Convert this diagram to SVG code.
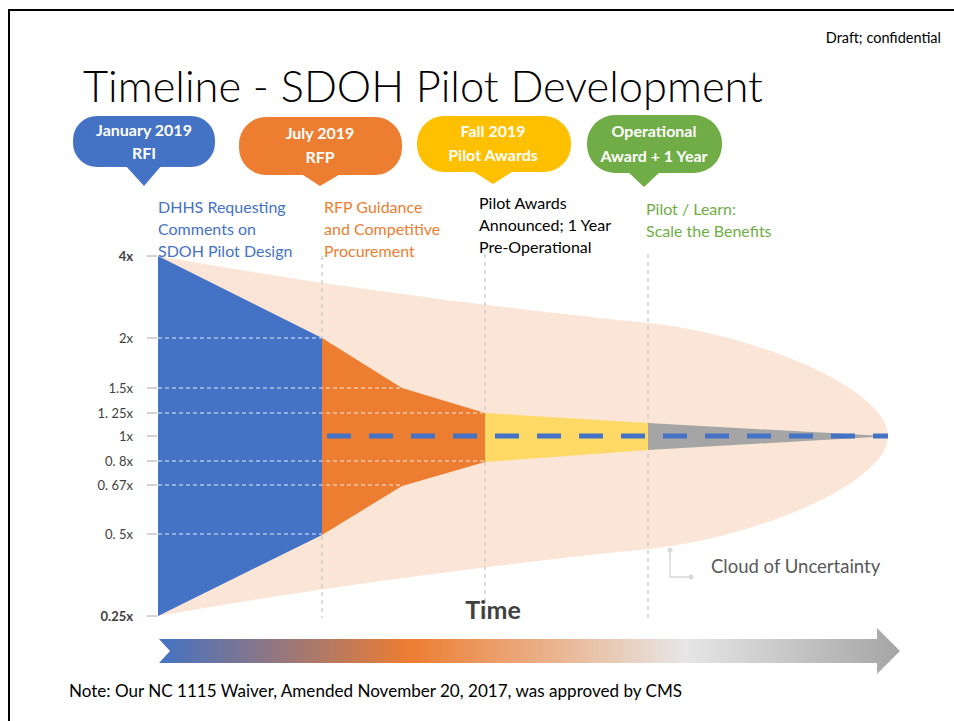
<svg xmlns="http://www.w3.org/2000/svg" width="954" height="721" viewBox="0 0 954 721">
  <defs>
    <linearGradient id="timeGrad" gradientUnits="userSpaceOnUse" x1="159" y1="0" x2="900" y2="0">
      <stop offset="0" stop-color="#4472C4"/>
      <stop offset="0.34" stop-color="#ED7D31"/>
      <stop offset="0.71" stop-color="#E7E6E6"/>
      <stop offset="1" stop-color="#A5A5A5"/>
    </linearGradient>
  </defs>
  <style>
    .lbl { font-family: Lato, "Liberation Sans", sans-serif; }
    .bub { font-family: Lato, "Liberation Sans", sans-serif; font-weight: 700; font-size: 16px; fill: #FFFFFF; text-anchor: middle; }
    .desc { font-family: Lato, "Liberation Sans", sans-serif; font-size: 16px; }
    .ax { font-family: Lato, "Liberation Sans", sans-serif; font-size: 13px; fill: #404040; text-anchor: end; }
    .tick { stroke: #A6A6A6; stroke-width: 1; }
    .hgrid { stroke: #FFFFFF; stroke-width: 1.2; stroke-dasharray: 4 3; opacity: 0.85; }
    .vgrid { stroke: #C8C8C8; stroke-width: 1.3; stroke-dasharray: 4 4; fill: none; }
  </style>

  <rect x="0" y="0" width="954" height="721" fill="#FFFFFF"/>
  <path d="M9,721 L9,10 L954,10" fill="none" stroke="#000000" stroke-width="2"/>

  <text class="lbl" x="941" y="43" font-size="14.5" text-anchor="end" fill="#000000">Draft; confidential</text>
  <text class="lbl" x="83" y="102" font-size="43" font-weight="300" fill="#000000" textLength="680" lengthAdjust="spacingAndGlyphs">Timeline - SDOH Pilot Development</text>

  <!-- Cloud of uncertainty -->
  <g id="cloud">
    <path d="M158,256 C320,285 490,307 648,323 C760,335 888,390 888,436 C888,482 760,537 648,549 C490,565 320,587 158,616 Z" fill="#FBE5D6"/>
  </g>

  <!-- vertical dashed phase lines -->
  <g id="phase-lines">
    <line class="vgrid" x1="322" y1="256" x2="322" y2="618"/>
    <line class="vgrid" x1="485" y1="254" x2="485" y2="618"/>
    <line class="vgrid" x1="648" y1="254" x2="648" y2="618"/>
  </g>

  <!-- cone segments -->
  <g id="cone-rfi">
    <polygon points="158,256 322,338 322,535 158,616" fill="#4472C4"/>
  </g>
  <g id="cone-rfp">
    <polygon points="322,338 402,388 485,413 485,462 402,486 322,535" fill="#ED7D31"/>
  </g>
  <g id="cone-awards">
    <polygon points="485,413 648,423 648,450 485,462" fill="#FFD966"/>
  </g>
  <g id="cone-operational">
    <polygon points="648,423 875,435.5 875,437 648,450" fill="#A5A5A5"/>
  </g>

  <!-- horizontal dashed gridlines -->
  <g id="gridlines">
    <line class="hgrid" x1="158" y1="338" x2="322" y2="338"/>
    <line class="hgrid" x1="158" y1="388" x2="401" y2="388"/>
    <line class="hgrid" x1="158" y1="413" x2="483" y2="413"/>
    <line class="hgrid" x1="158" y1="461" x2="484" y2="461"/>
    <line class="hgrid" x1="158" y1="485" x2="401" y2="485"/>
    <line class="hgrid" x1="158" y1="534" x2="322" y2="534"/>
  </g>

  <!-- expected value line -->
  <g id="baseline">
    <line x1="327" y1="436" x2="888" y2="436" stroke="#4472C4" stroke-width="5" stroke-dasharray="24 18"/>
  </g>

  <!-- y axis -->
  <g id="axis">
    <line class="tick" x1="147" y1="256" x2="157" y2="256"/>
    <line class="tick" x1="147" y1="338" x2="157" y2="338"/>
    <line class="tick" x1="147" y1="388" x2="157" y2="388"/>
    <line class="tick" x1="147" y1="413" x2="157" y2="413"/>
    <line class="tick" x1="147" y1="436" x2="157" y2="436"/>
    <line class="tick" x1="147" y1="461" x2="157" y2="461"/>
    <line class="tick" x1="147" y1="485" x2="157" y2="485"/>
    <line class="tick" x1="147" y1="534" x2="157" y2="534"/>
    <line class="tick" x1="147" y1="616" x2="157" y2="616"/>
    <text class="ax" x="133" y="261" font-weight="700">4x</text>
    <text class="ax" x="133" y="343">2x</text>
    <text class="ax" x="133" y="393">1.5x</text>
    <text class="ax" x="133" y="418">1. 25x</text>
    <text class="ax" x="133" y="441">1x</text>
    <text class="ax" x="133" y="466">0. 8x</text>
    <text class="ax" x="133" y="490">0. 67x</text>
    <text class="ax" x="133" y="539">0. 5x</text>
    <text class="ax" x="133" y="621" font-weight="700">0.25x</text>
  </g>

  <!-- callouts -->
  <g id="callout-rfi">
    <rect x="73" y="116" width="142" height="51" rx="24" fill="#4472C4"/>
    <polygon points="125,165 162,165 144,186" fill="#4472C4"/>
    <text class="bub" x="144" y="136">January 2019</text>
    <text class="bub" x="144" y="159">RFI</text>
  </g>
  <g id="callout-rfp">
    <rect x="239" y="117" width="163" height="58" rx="27" fill="#ED7D31"/>
    <polygon points="300,173 342,173 320,186" fill="#ED7D31"/>
    <text class="bub" x="320" y="139">July 2019</text>
    <text class="bub" x="320" y="163">RFP</text>
  </g>
  <g id="callout-awards">
    <rect x="417" y="116" width="154" height="56" rx="27" fill="#FFC000"/>
    <polygon points="471,170 515,170 493,184" fill="#FFC000"/>
    <text class="bub" x="493" y="137">Fall 2019</text>
    <text class="bub" x="493" y="161">Pilot Awards</text>
  </g>
  <g id="callout-operational">
    <rect x="587" y="115" width="135" height="58" rx="28" fill="#70AD47"/>
    <polygon points="627,171 661,171 644,187" fill="#70AD47"/>
    <text class="bub" x="654" y="137">Operational</text>
    <text class="bub" x="654" y="162">Award + 1 Year</text>
  </g>

  <!-- phase descriptions -->
  <g id="desc-rfi">
    <text class="desc" fill="#4472C4" x="158" y="213">DHHS Requesting</text>
    <text class="desc" fill="#4472C4" x="158" y="235">Comments on</text>
    <text class="desc" fill="#4472C4" x="158" y="257">SDOH Pilot Design</text>
  </g>
  <g id="desc-rfp">
    <text class="desc" fill="#ED7D31" x="324" y="213">RFP Guidance</text>
    <text class="desc" fill="#ED7D31" x="324" y="235">and Competitive</text>
    <text class="desc" fill="#ED7D31" x="324" y="257">Procurement</text>
  </g>
  <g id="desc-awards">
    <text class="desc" fill="#000000" x="479" y="209">Pilot Awards</text>
    <text class="desc" fill="#000000" x="479" y="231">Announced; 1 Year</text>
    <text class="desc" fill="#000000" x="479" y="253">Pre-Operational</text>
  </g>
  <g id="desc-operational">
    <text class="desc" fill="#70AD47" x="646" y="215">Pilot / Learn:</text>
    <text class="desc" fill="#70AD47" x="646" y="237">Scale the Benefits</text>
  </g>

  <!-- cloud label and leader -->
  <g id="connectors">
    <path d="M670,550 L670,577 L691,577" fill="none" stroke="#D9D9D9" stroke-width="1.5"/>
    <circle cx="670" cy="550" r="2.5" fill="#D9D9D9"/>
    <circle cx="691" cy="577" r="2.5" fill="#D9D9D9"/>
  </g>
  <g id="cloud-label">
    <text class="lbl" x="711" y="573" font-size="18.5" fill="#595959">Cloud of Uncertainty</text>
  </g>

  <!-- time arrow -->
  <g id="time-arrow">
    <text class="lbl" x="493" y="619" font-size="25" font-weight="700" fill="#404040" text-anchor="middle">Time</text>
    <path d="M159,639 L877,639 L877,628 L900,651 L877,674 L877,663 L159,663 L170,651 Z" fill="url(#timeGrad)"/>
  </g>

  <g id="note">
    <text class="lbl" x="69" y="697" font-size="16.5" fill="#000000" textLength="613" lengthAdjust="spacingAndGlyphs">Note: Our NC 1115 Waiver, Amended November 20, 2017, was approved by CMS</text>
  </g>
</svg>
